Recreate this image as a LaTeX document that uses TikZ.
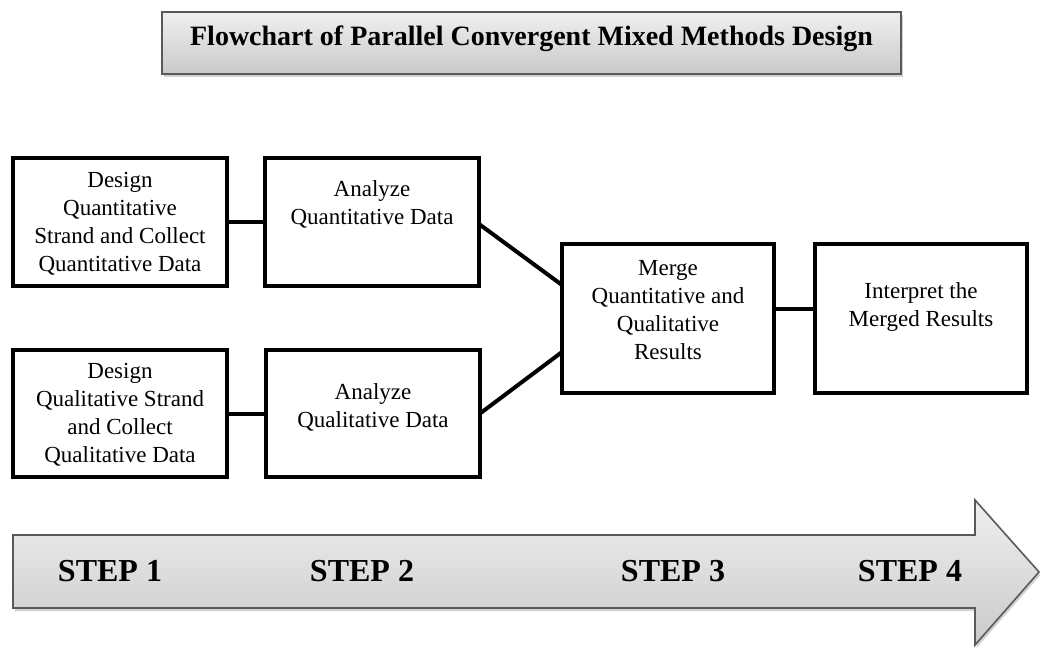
\documentclass[tikz,border=0pt]{standalone}
\usepackage{fontspec}
\setmainfont{Liberation Serif}
\usetikzlibrary{positioning,shadows}

\tikzset{
  stepbox/.style={draw, line width=3.5pt, minimum width=214pt, minimum height=128pt, inner sep=0pt, outer sep=0pt},
  boxtext/.style={align=center, inner sep=0pt, font=\fontsize{23}{28}\selectfont},
  link/.style={line width=4pt},
  banner/.style={draw=black!65, line width=1.6pt, top color=black!6, bottom color=black!21,
    drop shadow={shadow xshift=1.5pt, shadow yshift=-3pt, opacity=.35}},
  steplabel/.style={anchor=base, inner sep=0pt, font=\fontsize{32}{38}\selectfont\bfseries},
}

\begin{document}
\begin{tikzpicture}[x=1pt, y=-1pt]
    \useasboundingbox (0,0) rectangle (1042,648);

    % Title banner
    \node[banner, minimum width=739pt, minimum height=62pt, text height=16pt, text depth=12pt,
          font=\fontsize{28}{34}\selectfont\bfseries] (title) at (531.5,43)
          {Flowchart of Parallel Convergent Mixed Methods Design};

    % Step arrow
    \draw[banner] (13,535) -- (975,535) -- (975,500) -- (1039,572) -- (975,645) -- (975,608) -- (13,608) -- cycle;
    \node[steplabel] (step1) at (110,581) {STEP 1};
    \node[steplabel] (step2) at (362,581) {STEP 2};
    \node[steplabel] (step3) at (673,581) {STEP 3};
    \node[steplabel] (step4) at (910,581) {STEP 4};

    % Quantitative strand
    \node[stepbox] (dqn) at (120,222) {};
    \node[boxtext, below=14pt of dqn.north] (dqn-txt) {Design\\Quantitative\\Strand and Collect\\Quantitative Data};
    \node[stepbox] (aqn) at (372,222) {};
    \node[boxtext, below=22pt of aqn.north] (aqn-txt) {Analyze\\Quantitative Data};

    % Qualitative strand
    \node[stepbox, minimum height=127pt] (dql) at (120,413.5) {};
    \node[boxtext, below=13pt of dql.north] (dql-txt) {Design\\Qualitative Strand\\and Collect\\Qualitative Data};
    \node[stepbox, minimum height=127pt] (aql) at (373,413.5) {};
    \node[boxtext, below=33pt of aql.north] (aql-txt) {Analyze\\Qualitative Data};

    % Merge and interpret
    \node[stepbox, minimum width=212pt, minimum height=149pt] (merge) at (668,318.5) {};
    \node[boxtext, below=16pt of merge.north] (merge-txt) {Merge\\Quantitative and\\Qualitative\\Results};
    \node[stepbox, minimum width=212pt, minimum height=149pt] (interp) at (921,318.5) {};
    \node[boxtext, below=38pt of interp.north] (interp-txt) {Interpret the\\Merged Results};

    % Connectors
    \draw[link] (dqn) -- (aqn);
    \draw[link] (dql) -- (aql);
    \draw[link] ([yshift=-2pt]aqn.east) -- ([yshift=33.5pt]merge.west);
    \draw[link] (aql.east) -- ([yshift=-33.5pt]merge.west);
    \draw[link] ([yshift=10pt]merge.east) -- ([yshift=10pt]interp.west);
\end{tikzpicture}
\end{document}
